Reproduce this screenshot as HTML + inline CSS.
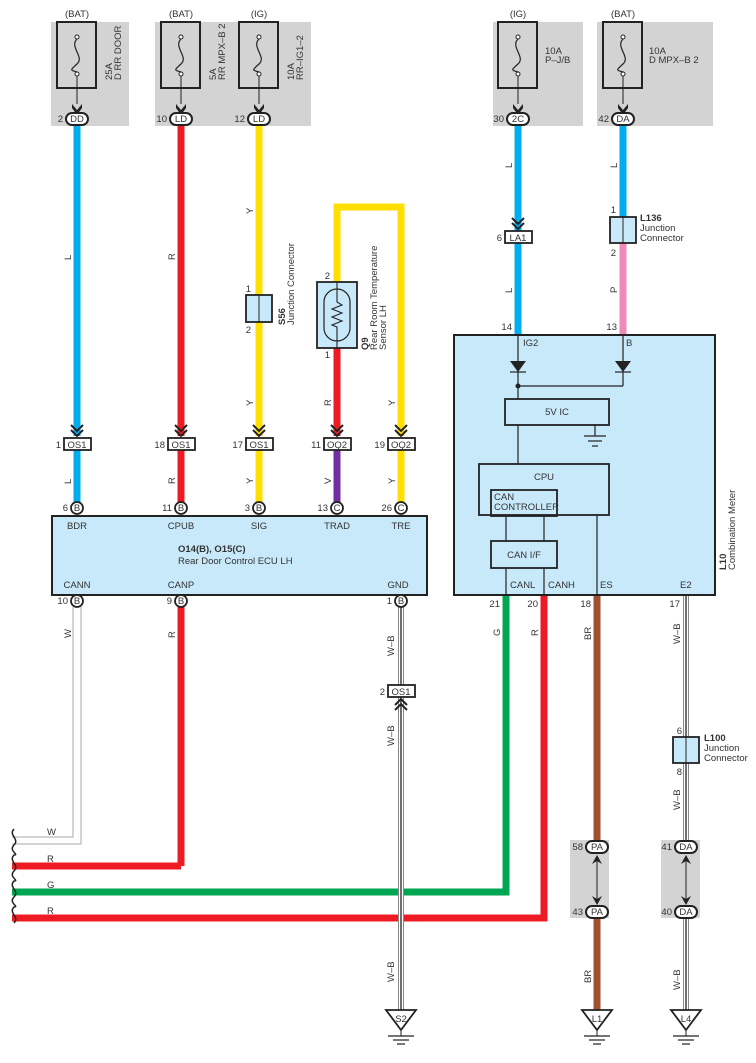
<!DOCTYPE html>
<html><head><meta charset="utf-8"><style>
html,body{margin:0;padding:0;background:#fff}
svg{display:block}
text{font-family:"Liberation Sans",sans-serif;fill:#333;font-size:9.5px}
</style></head><body>
<svg width="756" height="1063" viewBox="0 0 756 1063" xmlns="http://www.w3.org/2000/svg">
<defs>
<g id="fuse">
 <rect x="0" y="0" width="39" height="66" fill="none" stroke="#222" stroke-width="2"/>
 <circle cx="20" cy="15" r="2" fill="#fff" stroke="#222" stroke-width="1"/>
 <circle cx="20" cy="52" r="2" fill="#fff" stroke="#222" stroke-width="1"/>
 <path d="M20 17 C12 25,28 35,20 42 S14 48,20 50" fill="none" stroke="#222" stroke-width="1.2"/>
 <line x1="20" y1="54" x2="20" y2="82" stroke="#222" stroke-width="1"/>
 <path d="M15 82 L20 88 L25 82 L25 86 L20 93 L15 86Z" fill="#222"/>
</g>
<g id="chev"><path d="M-6 -10 L0 -4 L6 -10 M-6 -5 L0 1 L6 -5" fill="none" stroke="#222" stroke-width="2"/></g>
<g id="chevu"><path d="M-6 10 L0 4 L6 10 M-6 5 L0 -1 L6 5" fill="none" stroke="#222" stroke-width="2"/></g>
<g id="gnd"><path d="M-15 0 L15 0 L0 20Z" fill="#fff" stroke="#222" stroke-width="1.8"/><line x1="0" y1="20" x2="0" y2="26" stroke="#222"/><line x1="-13" y1="26" x2="13" y2="26" stroke="#222" stroke-width="1.2"/><line x1="-8" y1="30" x2="8" y2="30" stroke="#222" stroke-width="1.2"/><line x1="-4" y1="34" x2="4" y2="34" stroke="#222" stroke-width="1.2"/></g>
</defs>

<rect x="51" y="22" width="78" height="104" fill="#d3d3d3"/>
<rect x="155" y="22" width="156" height="104" fill="#d3d3d3"/>
<rect x="493" y="22" width="90" height="104" fill="#d3d3d3"/>
<rect x="597" y="22" width="116" height="104" fill="#d3d3d3"/>
<use href="#fuse" x="57" y="22"/>
<use href="#fuse" x="161" y="22"/>
<use href="#fuse" x="239" y="22"/>
<use href="#fuse" x="498" y="22"/>
<use href="#fuse" x="603" y="22"/>
<text x="77" y="17" text-anchor="middle">(BAT)</text>
<text x="181" y="17" text-anchor="middle">(BAT)</text>
<text x="259" y="17" text-anchor="middle">(IG)</text>
<text x="518" y="17" text-anchor="middle">(IG)</text>
<text x="623" y="17" text-anchor="middle">(BAT)</text>
<text transform="translate(112,80) rotate(-90)">25A</text>
<text transform="translate(121,80) rotate(-90)">D RR DOOR</text>
<text transform="translate(216,80) rotate(-90)">5A</text>
<text transform="translate(225,80) rotate(-90)">RR MPX–B 2</text>
<text transform="translate(294,80) rotate(-90)">10A</text>
<text transform="translate(303,80) rotate(-90)">RR–IG1–2</text>
<text x="545" y="54">10A</text><text x="545" y="63">P–J/B</text>
<text x="649" y="54">10A</text><text x="649" y="63">D MPX–B 2</text>

<g stroke-width="7" fill="none">
<line x1="77" y1="126" x2="77" y2="436" stroke="#00aeef"/>
<line x1="77" y1="450" x2="77" y2="502" stroke="#00aeef"/>
<line x1="181" y1="126" x2="181" y2="436" stroke="#ed1c24"/>
<line x1="181" y1="450" x2="181" y2="502" stroke="#ed1c24"/>
<line x1="259" y1="126" x2="259" y2="436" stroke="#ffde00"/>
<line x1="259" y1="450" x2="259" y2="502" stroke="#ffde00"/>
<path d="M337 282 V207 H401 V436" stroke="#ffde00"/>
<line x1="401" y1="450" x2="401" y2="502" stroke="#ffde00"/>
<line x1="337" y1="348" x2="337" y2="436" stroke="#ed1c24"/>
<line x1="337" y1="450" x2="337" y2="502" stroke="#7030a0"/>
<line x1="518" y1="126" x2="518" y2="335" stroke="#00aeef"/>
<line x1="623" y1="126" x2="623" y2="217" stroke="#00aeef"/>
<line x1="623" y1="243" x2="623" y2="335" stroke="#f088b8"/>
<line x1="181" y1="607" x2="181" y2="866" stroke="#ed1c24"/>
<path d="M12 866 H181" stroke="#ed1c24"/>
<path d="M12 892 H506 V595" stroke="#00a651"/>
<path d="M12 918 H544 V595" stroke="#ed1c24"/>
<line x1="597" y1="595" x2="597" y2="1012" stroke="#a0522d"/>
</g>
<path d="M81 607 V844 H12 M73 607 V837 H12" fill="none" stroke="#aaa" stroke-width="1"/>
<g fill="none">
<line x1="401" y1="607" x2="401" y2="1012" stroke="#888" stroke-width="6"/>
<line x1="401" y1="607" x2="401" y2="1012" stroke="#fff" stroke-width="4"/>
<line x1="401" y1="607" x2="401" y2="1012" stroke="#222" stroke-width="1.3"/>
<line x1="686" y1="595" x2="686" y2="1012" stroke="#888" stroke-width="6"/>
<line x1="686" y1="595" x2="686" y2="1012" stroke="#fff" stroke-width="4"/>
<line x1="686" y1="595" x2="686" y2="1012" stroke="#222" stroke-width="1.3"/>
</g>
<path d="M14 829 c-6 6 6 10 0 16 c-6 6 6 10 0 10 c-6 6 6 10 0 16 c-6 6 6 10 0 10 c-6 6 6 10 0 16 c-6 6 6 10 0 10 c-6 6 6 10 0 16" fill="none" stroke="#222" stroke-width="1.5"/>
<text x="47" y="835">W</text><text x="47" y="862">R</text><text x="47" y="888">G</text><text x="47" y="914">R</text>

<g stroke="#222" stroke-width="2" fill="#fff">
<rect x="66" y="113" width="22" height="12" rx="6"/>
<rect x="170" y="113" width="22" height="12" rx="6"/>
<rect x="248" y="113" width="22" height="12" rx="6"/>
<rect x="507" y="113" width="22" height="12" rx="6"/>
<rect x="612" y="113" width="22" height="12" rx="6"/>
</g>
<g text-anchor="middle">
<text x="77" y="122">DD</text><text x="181" y="122">LD</text><text x="259" y="122">LD</text><text x="518" y="122">2C</text><text x="623" y="122">DA</text>
</g>
<text x="63" y="122" text-anchor="end">2</text>
<text x="167" y="122" text-anchor="end">10</text>
<text x="245" y="122" text-anchor="end">12</text>
<text x="504" y="122" text-anchor="end">30</text>
<text x="609" y="122" text-anchor="end">42</text>

<g>
<text transform="translate(71,260) rotate(-90)">L</text>
<text transform="translate(175,260) rotate(-90)">R</text>
<text transform="translate(253,214) rotate(-90)">Y</text>
<text transform="translate(253,406) rotate(-90)">Y</text>
<text transform="translate(331,406) rotate(-90)">R</text>
<text transform="translate(395,406) rotate(-90)">Y</text>
<text transform="translate(71,484) rotate(-90)">L</text>
<text transform="translate(175,484) rotate(-90)">R</text>
<text transform="translate(253,484) rotate(-90)">Y</text>
<text transform="translate(331,484) rotate(-90)">V</text>
<text transform="translate(395,484) rotate(-90)">Y</text>
<text transform="translate(512,168) rotate(-90)">L</text>
<text transform="translate(617,168) rotate(-90)">L</text>
<text transform="translate(512,293) rotate(-90)">L</text>
<text transform="translate(617,293) rotate(-90)">P</text>
<text transform="translate(71,638) rotate(-90)">W</text>
<text transform="translate(175,638) rotate(-90)">R</text>
<text transform="translate(394,656) rotate(-90)">W–B</text>
<text transform="translate(394,746) rotate(-90)">W–B</text>
<text transform="translate(394,982) rotate(-90)">W–B</text>
<text transform="translate(500,636) rotate(-90)">G</text>
<text transform="translate(538,636) rotate(-90)">R</text>
<text transform="translate(591,640) rotate(-90)">BR</text>
<text transform="translate(680,644) rotate(-90)">W–B</text>
<text transform="translate(680,810) rotate(-90)">W–B</text>
<text transform="translate(591,983) rotate(-90)">BR</text>
<text transform="translate(680,990) rotate(-90)">W–B</text>
</g>

<rect x="246" y="295" width="26" height="27" fill="#c8e9f9" stroke="#222" stroke-width="1.8"/>
<line x1="259" y1="295" x2="259" y2="322" stroke="#222"/>
<text x="251" y="292" text-anchor="end">1</text><text x="251" y="333" text-anchor="end">2</text>
<text transform="translate(285,325) rotate(-90)" font-weight="bold">S56</text>
<text transform="translate(294,325) rotate(-90)">Junction Connector</text>
<rect x="317" y="282" width="40" height="66" fill="#c8e9f9" stroke="#222" stroke-width="1.8"/>
<rect x="324" y="289" width="26" height="52" rx="13" fill="none" stroke="#222" stroke-width="1.2"/>
<path d="M337 282 V302 l5 3 -10 4 10 4 -10 4 10 4 -10 4 5 2 V348" fill="none" stroke="#222" stroke-width="1.1"/>
<text x="330" y="279" text-anchor="end">2</text><text x="330" y="358" text-anchor="end">1</text>
<text transform="translate(368,350) rotate(-90)" font-weight="bold">Q9</text>
<text transform="translate(377,350) rotate(-90)">Rear Room Temperature</text>
<text transform="translate(386,350) rotate(-90)">Sensor LH</text>

<g stroke="#222" stroke-width="1.8" fill="#fff">
<rect x="64" y="438" width="27" height="12"/><rect x="168" y="438" width="27" height="12"/>
<rect x="246" y="438" width="27" height="12"/><rect x="324" y="438" width="27" height="12"/>
<rect x="388" y="438" width="27" height="12"/>
</g>
<use href="#chev" x="77" y="435"/><use href="#chev" x="181" y="435"/><use href="#chev" x="259" y="435"/><use href="#chev" x="337" y="435"/><use href="#chev" x="401" y="435"/>
<g text-anchor="middle"><text x="77" y="448">OS1</text><text x="181" y="448">OS1</text><text x="259" y="448">OS1</text><text x="337" y="448">OQ2</text><text x="401" y="448">OQ2</text></g>
<text x="61" y="448" text-anchor="end">1</text><text x="165" y="448" text-anchor="end">18</text><text x="243" y="448" text-anchor="end">17</text><text x="321" y="448" text-anchor="end">11</text><text x="385" y="448" text-anchor="end">19</text>

<rect x="52" y="516" width="375" height="79" fill="#c8e9f9" stroke="#222" stroke-width="2"/>
<g stroke="#222" stroke-width="1.8" fill="#fff">
<circle cx="77" cy="508" r="6"/><circle cx="181" cy="508" r="6"/><circle cx="259" cy="508" r="6"/><circle cx="337" cy="508" r="6"/><circle cx="401" cy="508" r="6"/>
<circle cx="77" cy="601" r="6"/><circle cx="181" cy="601" r="6"/><circle cx="401" cy="601" r="6"/>
</g>
<g text-anchor="middle"><text x="77" y="511" font-size="8">B</text><text x="181" y="511" font-size="8">B</text><text x="259" y="511" font-size="8">B</text><text x="337" y="511" font-size="8">C</text><text x="401" y="511" font-size="8">C</text>
<text x="77" y="604" font-size="8">B</text><text x="181" y="604" font-size="8">B</text><text x="401" y="604" font-size="8">B</text></g>
<text x="68" y="511" text-anchor="end">6</text><text x="172" y="511" text-anchor="end">11</text><text x="250" y="511" text-anchor="end">3</text><text x="328" y="511" text-anchor="end">13</text><text x="392" y="511" text-anchor="end">26</text>
<text x="68" y="604" text-anchor="end">10</text><text x="172" y="604" text-anchor="end">9</text><text x="392" y="604" text-anchor="end">1</text>
<g text-anchor="middle"><text x="77" y="529">BDR</text><text x="181" y="529">CPUB</text><text x="259" y="529">SIG</text><text x="337" y="529">TRAD</text><text x="401" y="529">TRE</text>
<text x="77" y="588">CANN</text><text x="181" y="588">CANP</text><text x="398" y="588">GND</text></g>
<text x="178" y="552" font-weight="bold">O14(B), O15(C)</text>
<text x="178" y="564">Rear Door Control ECU LH</text>

<rect x="388" y="685" width="27" height="12" fill="#fff" stroke="#222" stroke-width="1.8"/>
<text x="401" y="695" text-anchor="middle">OS1</text><text x="385" y="695" text-anchor="end">2</text>
<use href="#chevu" x="401" y="700"/>

<use href="#chev" x="518" y="228"/>
<rect x="505" y="231" width="27" height="12" fill="#fff" stroke="#222" stroke-width="1.8"/>
<text x="518" y="241" text-anchor="middle">LA1</text><text x="502" y="241" text-anchor="end">6</text>
<rect x="610" y="217" width="26" height="26" fill="#c8e9f9" stroke="#222" stroke-width="1.8"/>
<line x1="623" y1="217" x2="623" y2="243" stroke="#222"/>
<text x="616" y="213" text-anchor="end">1</text><text x="616" y="256" text-anchor="end">2</text>
<text x="640" y="221" font-weight="bold">L136</text><text x="640" y="231">Junction</text><text x="640" y="241">Connector</text>

<rect x="454" y="335" width="261" height="260" fill="#c8e9f9" stroke="#222" stroke-width="2"/>
<text x="512" y="330" text-anchor="end">14</text><text x="617" y="330" text-anchor="end">13</text>
<g stroke="#222" stroke-width="1.2" fill="none">
<line x1="518" y1="335" x2="518" y2="399"/>
<line x1="623" y1="335" x2="623" y2="386"/>
<line x1="518" y1="386" x2="623" y2="386"/>
<line x1="518" y1="425" x2="518" y2="464"/>
<line x1="595" y1="425" x2="595" y2="436"/>
<line x1="584" y1="436" x2="606" y2="436"/><line x1="588" y1="441" x2="602" y2="441"/><line x1="592" y1="446" x2="598" y2="446"/>
<line x1="506" y1="516" x2="506" y2="541"/><line x1="544" y1="516" x2="544" y2="541"/>
<line x1="506" y1="568" x2="506" y2="595"/><line x1="544" y1="568" x2="544" y2="595"/>
<line x1="597" y1="515" x2="597" y2="595"/>
<line x1="510" y1="372" x2="526" y2="372"/><line x1="615" y1="372" x2="631" y2="372"/>
</g>
<path d="M510 361 H526 L518 372Z M615 361 H631 L623 372Z" fill="#222"/>
<circle cx="518" cy="386" r="2.5" fill="#222"/>
<g stroke="#222" stroke-width="1.8" fill="none">
<rect x="505" y="399" width="104" height="26"/>
<rect x="479" y="464" width="130" height="51"/>
<rect x="491" y="490" width="66" height="26"/>
<rect x="491" y="541" width="66" height="27"/>
</g>
<text x="557" y="415" text-anchor="middle">5V IC</text>
<text x="544" y="480" text-anchor="middle">CPU</text>
<text x="494" y="500">CAN</text><text x="494" y="510">CONTROLLER</text>
<text x="524" y="558" text-anchor="middle">CAN I/F</text>
<text x="523" y="346">IG2</text><text x="626" y="346">B</text>
<text x="510" y="588">CANL</text><text x="548" y="588">CANH</text><text x="600" y="588">ES</text><text x="680" y="588">E2</text>
<text x="500" y="607" text-anchor="end">21</text><text x="538" y="607" text-anchor="end">20</text><text x="591" y="607" text-anchor="end">18</text><text x="680" y="607" text-anchor="end">17</text>
<text transform="translate(726,570) rotate(-90)" font-weight="bold">L10</text>
<text transform="translate(735,570) rotate(-90)">Combination Meter</text>

<rect x="673" y="737" width="26" height="26" fill="#c8e9f9" stroke="#222" stroke-width="1.8"/>
<line x1="686" y1="737" x2="686" y2="763" stroke="#222"/>
<text x="682" y="734" text-anchor="end">6</text><text x="682" y="775" text-anchor="end">8</text>
<text x="704" y="741" font-weight="bold">L100</text><text x="704" y="751">Junction</text><text x="704" y="761">Connector</text>

<rect x="570" y="840" width="39" height="78" fill="#d3d3d3"/>
<rect x="661" y="840" width="39" height="78" fill="#d3d3d3"/>
<g stroke="#222" stroke-width="2" fill="#fff">
<rect x="586" y="841" width="22" height="12" rx="6"/><rect x="586" y="906" width="22" height="12" rx="6"/>
<rect x="675" y="841" width="22" height="12" rx="6"/><rect x="675" y="906" width="22" height="12" rx="6"/>
</g>
<g stroke="#222" stroke-width="1"><line x1="597" y1="858" x2="597" y2="902"/><line x1="686" y1="858" x2="686" y2="902"/></g>
<path d="M592 864 L597 855 L602 864 L597 861Z M592 896 L597 905 L602 896 L597 899Z M681 864 L686 855 L691 864 L686 861Z M681 896 L686 905 L691 896 L686 899Z" fill="#222"/>
<g text-anchor="middle"><text x="597" y="850">PA</text><text x="597" y="915">PA</text><text x="686" y="850">DA</text><text x="686" y="915">DA</text></g>
<text x="583" y="850" text-anchor="end">58</text><text x="583" y="915" text-anchor="end">43</text>
<text x="672" y="850" text-anchor="end">41</text><text x="672" y="915" text-anchor="end">40</text>

<use href="#gnd" x="401" y="1010"/><use href="#gnd" x="597" y="1010"/><use href="#gnd" x="686" y="1010"/>
<g text-anchor="middle"><text x="401" y="1022">S2</text><text x="597" y="1022">L1</text><text x="686" y="1022">L4</text></g>
</svg>
</body></html>
